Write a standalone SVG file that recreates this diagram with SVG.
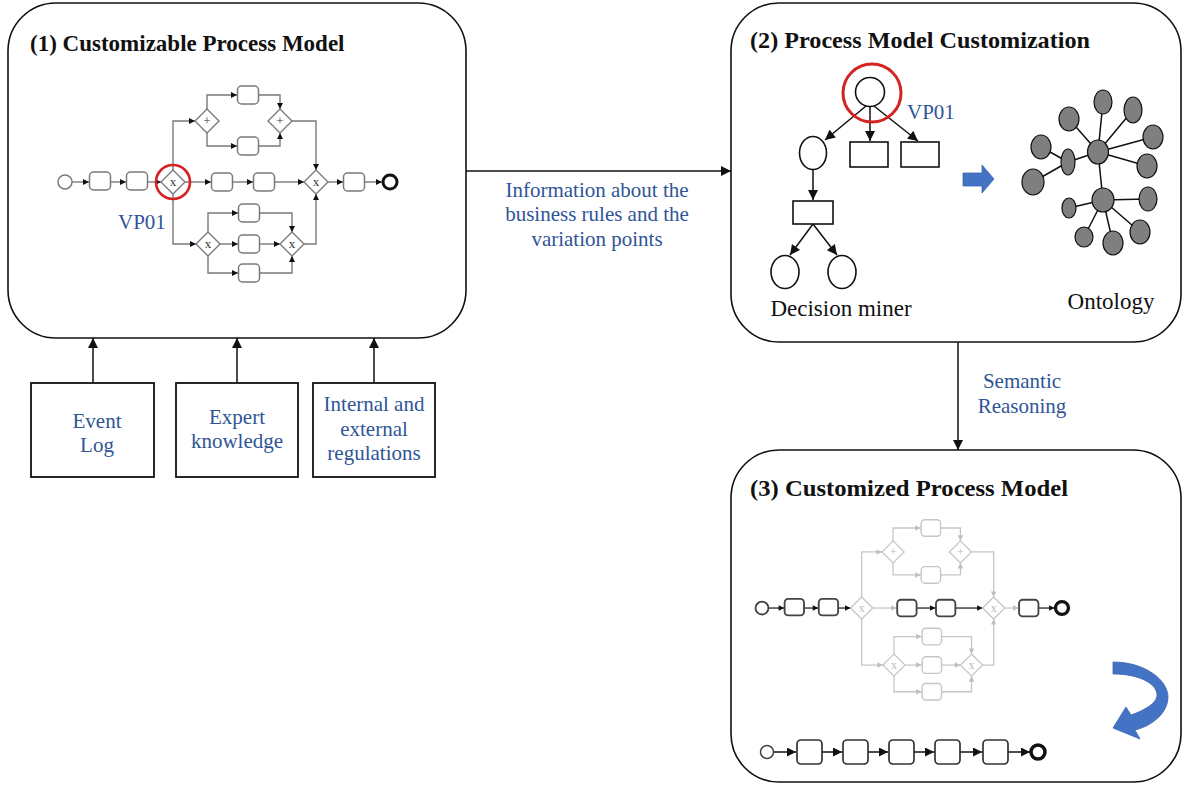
<svg xmlns="http://www.w3.org/2000/svg" width="1189" height="787" viewBox="0 0 1189 787">
<style>
.panel{fill:#fff;stroke:#111;stroke-width:1.6}
.title{font-family:"Liberation Serif","Times New Roman",serif;font-weight:bold;font-size:23px;fill:#111}
.blue{font-family:"Liberation Serif","Times New Roman",serif;font-size:21px;fill:#2f5597}
.lbl{font-family:"Liberation Serif","Times New Roman",serif;font-size:23px;fill:#111}
.box{fill:#fff;stroke:#111;stroke-width:1.8}
.conn{fill:none;stroke:#111;stroke-width:1.5}
.t{fill:#fff;stroke:#7a7a7a;stroke-width:1.5}
.f{fill:none;stroke:#7a7a7a;stroke-width:1.4}
.gw{fill:#fff;stroke:#7a7a7a;stroke-width:1.4}
.gm{font-family:"Liberation Serif",serif;font-size:13px;fill:#333;text-anchor:middle}
.lt .t,.lt .gw{stroke:#c6c6c6}
.lt .f{stroke:#c6c6c6}
.lt .gm{fill:#bbb}
.dk{stroke:#444 !important;stroke-width:2 !important}
.dkf{stroke:#222 !important}
.tree{fill:#fff;stroke:#111;stroke-width:1.6}
.onode{fill:#7f7f7f;stroke:#111;stroke-width:1.2}
.oedge{stroke:#111;stroke-width:1.5}
.seq{fill:#fff;stroke:#333;stroke-width:1.7}
</style>
<defs>
<marker id="ab" viewBox="0 0 10 10" refX="10" refY="5" markerWidth="7" markerHeight="6" markerUnits="userSpaceOnUse" orient="auto"><path d="M0,0 L10,5 L0,10 z" fill="#111"/></marker>
<marker id="al" viewBox="0 0 10 10" refX="10" refY="5" markerWidth="7" markerHeight="6" markerUnits="userSpaceOnUse" orient="auto"><path d="M0,0 L10,5 L0,10 z" fill="#c0c0c0"/></marker>
<marker id="big" viewBox="0 0 10 10" refX="10" refY="5" markerWidth="12" markerHeight="10" markerUnits="userSpaceOnUse" orient="auto"><path d="M0,0 L10,5 L0,10 z" fill="#111"/></marker>
<marker id="seqa" viewBox="0 0 10 10" refX="10" refY="5" markerWidth="10" markerHeight="9" markerUnits="userSpaceOnUse" orient="auto"><path d="M0,0 L10,5 L0,10 z" fill="#111"/></marker>
<g id="model">
<path class="f" d="M72,182 H89" marker-end="url(#ab)"/>
<path class="f" d="M110,182 H126" marker-end="url(#ab)"/>
<path class="f" d="M147,182 H161" marker-end="url(#ab)"/>
<path class="f" d="M173,170 V121 H195" marker-end="url(#ab)"/>
<path class="f" d="M207,109 V95 H237" marker-end="url(#ab)"/>
<path class="f" d="M207,133 V146 H237" marker-end="url(#ab)"/>
<path class="f" d="M259,95 H280 V109" marker-end="url(#ab)"/>
<path class="f" d="M259,146 H280 V133" marker-end="url(#ab)"/>
<path class="f" d="M292,121 H316 V170" marker-end="url(#ab)"/>
<path class="f" d="M185,182 H211" marker-end="url(#ab)"/>
<path class="f" d="M233,182 H253" marker-end="url(#ab)"/>
<path class="f" d="M275,182 H304" marker-end="url(#ab)"/>
<path class="f" d="M328,182 H343" marker-end="url(#ab)"/>
<path class="f" d="M365,182 H382" marker-end="url(#ab)"/>
<path class="f" d="M173,194 V244 H196" marker-end="url(#ab)"/>
<path class="f" d="M208,232 V213 H238" marker-end="url(#ab)"/>
<path class="f" d="M220,244 H238" marker-end="url(#ab)"/>
<path class="f" d="M208,256 V273 H238" marker-end="url(#ab)"/>
<path class="f" d="M260,213 H292 V232" marker-end="url(#ab)"/>
<path class="f" d="M260,244 H280" marker-end="url(#ab)"/>
<path class="f" d="M260,273 H292 V256" marker-end="url(#ab)"/>
<path class="f" d="M304,244 H316 V194" marker-end="url(#ab)"/>
</g>
</defs>

<g id="panel1">
<rect class="panel" x="8" y="3" width="458" height="335" rx="48"/>
<text class="title" x="30" y="51">(1) Customizable Process Model</text>
<g id="model1">
<use href="#model"/>
<circle class="t" cx="65" cy="182" r="7"/>
<rect class="t" x="89.5" y="172" width="21" height="18" rx="4"/>
<rect class="t" x="126.5" y="172" width="21" height="18" rx="4"/>
<rect class="t" x="237.5" y="86" width="21" height="18" rx="4"/>
<rect class="t" x="237.5" y="137" width="21" height="18" rx="4"/>
<rect class="t" x="211.5" y="173" width="21" height="18" rx="4"/>
<rect class="t" x="253.5" y="173" width="21" height="18" rx="4"/>
<rect class="t" x="343.5" y="173" width="21" height="18" rx="4"/>
<rect class="t" x="238.5" y="204" width="21" height="18" rx="4"/>
<rect class="t" x="238.5" y="235" width="21" height="18" rx="4"/>
<rect class="t" x="238.5" y="264" width="21" height="18" rx="4"/>
<circle cx="390" cy="182" r="7" fill="#fff" stroke="#111" stroke-width="3"/>
<path class="gw" d="M173,170 L185,182 L173,194 L161,182 Z"/><text class="gm" x="173" y="186">x</text>
<path class="gw" d="M207,109 L219,121 L207,133 L195,121 Z"/><text class="gm" x="207" y="125">+</text>
<path class="gw" d="M280,109 L292,121 L280,133 L268,121 Z"/><text class="gm" x="280" y="125">+</text>
<path class="gw" d="M316,170 L328,182 L316,194 L304,182 Z"/><text class="gm" x="316" y="186">x</text>
<path class="gw" d="M208,232 L220,244 L208,256 L196,244 Z"/><text class="gm" x="208" y="248">x</text>
<path class="gw" d="M292,232 L304,244 L292,256 L280,244 Z"/><text class="gm" x="292" y="248">x</text>
<circle cx="173" cy="182" r="17" fill="none" stroke="#d42323" stroke-width="2.6"/>
<text class="blue" x="118" y="229">VP01</text>
</g>
</g>

<g id="panel2">
<rect class="panel" x="731" y="3" width="450" height="339" rx="48"/>
<text class="title" x="750" y="48" textLength="340" lengthAdjust="spacingAndGlyphs">(2) Process Model Customization</text>
<g id="tree">
<path class="conn" d="M866,106 L825,140" marker-end="url(#big)"/>
<path class="conn" d="M870,107 V141" marker-end="url(#big)"/>
<path class="conn" d="M874,106 L918,141" marker-end="url(#big)"/>
<path class="conn" d="M813,170 V200" marker-end="url(#big)"/>
<path class="conn" d="M813,224 L790,255" marker-end="url(#big)"/>
<path class="conn" d="M813,224 L837,255" marker-end="url(#big)"/>
<circle class="tree" cx="870" cy="92" r="14.5"/>
<ellipse class="tree" cx="813" cy="153" rx="13.5" ry="16.5"/>
<rect class="tree" x="850" y="142" width="38" height="25"/>
<rect class="tree" x="901" y="142" width="38" height="25"/>
<rect class="tree" x="793" y="201" width="40" height="23"/>
<ellipse class="tree" cx="785" cy="272" rx="14" ry="16.5"/>
<ellipse class="tree" cx="842" cy="272" rx="14" ry="16.5"/>
<circle cx="872" cy="93" r="29" fill="none" stroke="#d42323" stroke-width="3"/>
<text class="blue" x="907" y="119">VP01</text>
<text class="lbl" x="841" y="316" text-anchor="middle">Decision miner</text>
</g>
<path id="bluearrow" d="M963,173 H982 V165 L994,179 L982,193 V186 H963 Z" fill="#4472c4" stroke="#3a64b0" stroke-width="0.8"/>
<g id="ontology">
<g class="oedge">
<line x1="1098" y1="152" x2="1103" y2="102"/>
<line x1="1098" y1="152" x2="1069" y2="119"/>
<line x1="1098" y1="152" x2="1133" y2="110"/>
<line x1="1098" y1="152" x2="1153" y2="137"/>
<line x1="1098" y1="152" x2="1147" y2="166"/>
<line x1="1098" y1="152" x2="1068" y2="162"/>
<line x1="1098" y1="152" x2="1103" y2="200"/>
<line x1="1068" y1="162" x2="1041" y2="147"/>
<line x1="1068" y1="162" x2="1033" y2="182"/>
<line x1="1103" y1="200" x2="1069" y2="208"/>
<line x1="1103" y1="200" x2="1148" y2="199"/>
<line x1="1103" y1="200" x2="1140" y2="232"/>
<line x1="1103" y1="200" x2="1113" y2="243"/>
<line x1="1103" y1="200" x2="1084" y2="237"/>
</g>
<ellipse class="onode" cx="1098" cy="152" rx="10.5" ry="12"/>
<ellipse class="onode" cx="1103" cy="200" rx="11" ry="12"/>
<ellipse class="onode" cx="1103" cy="102" rx="9" ry="12"/>
<ellipse class="onode" cx="1069" cy="119" rx="10" ry="12"/>
<ellipse class="onode" cx="1133" cy="110" rx="9" ry="13"/>
<ellipse class="onode" cx="1153" cy="137" rx="10" ry="12"/>
<ellipse class="onode" cx="1147" cy="166" rx="10" ry="12"/>
<ellipse class="onode" cx="1068" cy="162" rx="7" ry="13"/>
<ellipse class="onode" cx="1041" cy="147" rx="10" ry="12"/>
<ellipse class="onode" cx="1033" cy="182" rx="11" ry="13"/>
<ellipse class="onode" cx="1069" cy="208" rx="7" ry="10"/>
<ellipse class="onode" cx="1148" cy="199" rx="9" ry="12"/>
<ellipse class="onode" cx="1140" cy="232" rx="10" ry="12"/>
<ellipse class="onode" cx="1113" cy="243" rx="10" ry="12"/>
<ellipse class="onode" cx="1084" cy="237" rx="9" ry="10"/>
<text class="lbl" x="1111" y="309" text-anchor="middle">Ontology</text>
</g>
</g>

<g id="panel3">
<rect class="panel" x="731" y="450" width="450" height="332" rx="48"/>
<text class="title" x="750" y="496" textLength="318" lengthAdjust="spacingAndGlyphs">(3) Customized Process Model</text>
<g id="model3" class="lt" transform="matrix(0.923 0 0 0.92 702 440.6)">
<path class="f" d="M185,182 H211" marker-end="url(#al)"/>
<path class="f" d="M328,182 H343" marker-end="url(#al)"/>
<path class="f" d="M173,170 V121 H195" marker-end="url(#al)"/>
<path class="f" d="M207,109 V95 H237" marker-end="url(#al)"/>
<path class="f" d="M207,133 V146 H237" marker-end="url(#al)"/>
<path class="f" d="M259,95 H280 V109" marker-end="url(#al)"/>
<path class="f" d="M259,146 H280 V133" marker-end="url(#al)"/>
<path class="f" d="M292,121 H316 V170" marker-end="url(#al)"/>
<path class="f" d="M173,194 V244 H196" marker-end="url(#al)"/>
<path class="f" d="M208,232 V213 H238" marker-end="url(#al)"/>
<path class="f" d="M220,244 H238" marker-end="url(#al)"/>
<path class="f" d="M208,256 V273 H238" marker-end="url(#al)"/>
<path class="f" d="M260,213 H292 V232" marker-end="url(#al)"/>
<path class="f" d="M260,244 H280" marker-end="url(#al)"/>
<path class="f" d="M260,273 H292 V256" marker-end="url(#al)"/>
<path class="f" d="M304,244 H316 V194" marker-end="url(#al)"/>
<path class="f dkf" d="M72,182 H89" marker-end="url(#ab)"/>
<path class="f dkf" d="M110,182 H126" marker-end="url(#ab)"/>
<path class="f dkf" d="M147,182 H161" marker-end="url(#ab)"/>
<path class="f dkf" d="M233,182 H253" marker-end="url(#ab)"/>
<path class="f dkf" d="M275,182 H304" marker-end="url(#ab)"/>
<path class="f dkf" d="M365,182 H382" marker-end="url(#ab)"/>
<circle class="t dk" cx="65" cy="182" r="7"/>
<rect class="t dk" x="89.5" y="172" width="21" height="18" rx="4"/>
<rect class="t dk" x="126.5" y="172" width="21" height="18" rx="4"/>
<rect class="t" x="237.5" y="86" width="21" height="18" rx="4"/>
<rect class="t" x="237.5" y="137" width="21" height="18" rx="4"/>
<rect class="t dk" x="211.5" y="173" width="21" height="18" rx="4"/>
<rect class="t dk" x="253.5" y="173" width="21" height="18" rx="4"/>
<rect class="t dk" x="343.5" y="173" width="21" height="18" rx="4"/>
<rect class="t" x="238.5" y="204" width="21" height="18" rx="4"/>
<rect class="t" x="238.5" y="235" width="21" height="18" rx="4"/>
<rect class="t" x="238.5" y="264" width="21" height="18" rx="4"/>
<circle cx="390" cy="182" r="7" fill="#fff" stroke="#111" stroke-width="3.5"/>
<path class="gw" d="M173,170 L185,182 L173,194 L161,182 Z"/><text class="gm" x="173" y="186">x</text>
<path class="gw" d="M207,109 L219,121 L207,133 L195,121 Z"/><text class="gm" x="207" y="125">+</text>
<path class="gw" d="M280,109 L292,121 L280,133 L268,121 Z"/><text class="gm" x="280" y="125">+</text>
<path class="gw" d="M316,170 L328,182 L316,194 L304,182 Z"/><text class="gm" x="316" y="186">x</text>
<path class="gw" d="M208,232 L220,244 L208,256 L196,244 Z"/><text class="gm" x="208" y="248">x</text>
<path class="gw" d="M292,232 L304,244 L292,256 L280,244 Z"/><text class="gm" x="292" y="248">x</text>
</g>
<g id="sequence">
<path class="conn" d="M774,752 H796" marker-end="url(#seqa)"/>
<path class="conn" d="M822,752 H842" marker-end="url(#seqa)"/>
<path class="conn" d="M868,752 H888" marker-end="url(#seqa)"/>
<path class="conn" d="M914,752 H934" marker-end="url(#seqa)"/>
<path class="conn" d="M960,752 H982" marker-end="url(#seqa)"/>
<path class="conn" d="M1008,752 H1030" marker-end="url(#seqa)"/>
<circle cx="767" cy="752" r="6.5" fill="#fff" stroke="#444" stroke-width="1.5"/>
<rect class="seq" x="797" y="740" width="25" height="24" rx="4"/>
<rect class="seq" x="843" y="740" width="25" height="24" rx="4"/>
<rect class="seq" x="889" y="740" width="25" height="24" rx="4"/>
<rect class="seq" x="935" y="740" width="25" height="24" rx="4"/>
<rect class="seq" x="983" y="740" width="25" height="24" rx="4"/>
<circle cx="1038" cy="752" r="7" fill="#fff" stroke="#111" stroke-width="3.5"/>
</g>
<path id="curvedarrow" d="M1113,662 C1145,662 1168,680 1168,697 C1168,713 1152,726 1135,730 L1140,739 L1113,728 L1126,707 L1131,715 C1145,710 1157,703 1157,695 C1157,684 1140,674 1113,674 Z" fill="#4472c4" stroke="#3a64b0" stroke-width="0.8"/>
</g>

<g id="src-eventlog">
<rect class="box" x="31" y="383" width="123" height="94"/>
<text class="blue" x="97" y="428" text-anchor="middle">Event</text>
<text class="blue" x="97" y="452" text-anchor="middle">Log</text>
</g>
<g id="src-expert">
<rect class="box" x="176" y="383" width="122" height="94"/>
<text class="blue" x="237" y="424" text-anchor="middle">Expert</text>
<text class="blue" x="237" y="448" text-anchor="middle">knowledge</text>
</g>
<g id="src-regulations">
<rect class="box" x="313" y="383" width="122" height="94"/>
<text class="blue" x="374" y="411" text-anchor="middle">Internal and</text>
<text class="blue" x="374" y="436" text-anchor="middle">external</text>
<text class="blue" x="374" y="460" text-anchor="middle">regulations</text>
</g>

<g id="connectors">
<path class="conn" d="M466,171 H731" marker-end="url(#big)"/>
<path class="conn" d="M958,342 V450" marker-end="url(#big)"/>
<path class="conn" d="M93,383 V338" marker-end="url(#big)"/>
<path class="conn" d="M237,383 V338" marker-end="url(#big)"/>
<path class="conn" d="M374,383 V338" marker-end="url(#big)"/>
<text class="blue" x="597" y="197" text-anchor="middle">Information about the</text>
<text class="blue" x="597" y="221" text-anchor="middle">business rules and the</text>
<text class="blue" x="597" y="246" text-anchor="middle">variation points</text>
<text class="blue" x="1022" y="388" text-anchor="middle">Semantic</text>
<text class="blue" x="1022" y="413" text-anchor="middle">Reasoning</text>
</g>
</svg>
